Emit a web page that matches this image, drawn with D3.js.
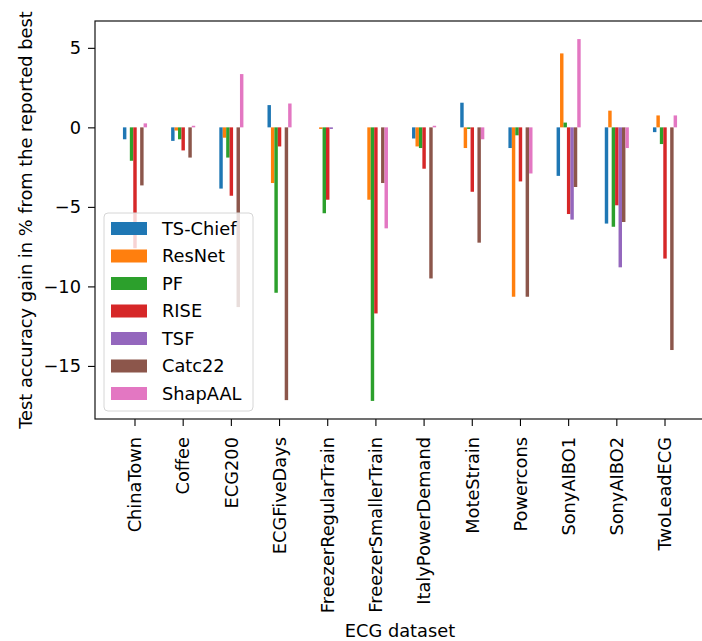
<!DOCTYPE html>
<html>
<head>
<meta charset="utf-8">
<script src="https://cdn.jsdelivr.net/npm/d3@7"></script>
<style>
  html, body { margin: 0; padding: 0; background: #fff; }
  svg { display: block; }
  text { font-family: "DejaVu Sans", sans-serif; fill: #000; }
</style>
</head>
<body>
<svg id="chart" width="702" height="641"></svg>
<script>
// ECG datasets on the x axis
const datasets = ["ChinaTown", "Coffee", "ECG200", "ECGFiveDays", "FreezerRegularTrain",
  "FreezerSmallerTrain", "ItalyPowerDemand", "MoteStrain", "Powercons",
  "SonyAIBO1", "SonyAIBO2", "TwoLeadECG"];

// Methods (one bar per dataset each)
const methods = ["TS-Chief", "ResNet", "PF", "RISE", "TSF", "Catc22", "ShapAAL"];

// Gain in test accuracy (%) relative to the reported best, per method
const tsChief = [-0.75, -0.85, -3.85, 1.4, 0, 0, -0.7, 1.55, -1.3, -3.05, -6.05, -0.3];
const resNet  = [0, -0.2, -0.65, -3.5, -0.1, -4.55, -1.2, -1.3, -10.65, 4.65, 1.05, 0.75];
const pf      = [-2.1, -0.75, -1.9, -10.4, -5.4, -17.2, -1.3, -0.1, -0.5, 0.3, -6.25, -1.05];
const rise    = [-7.6, -1.45, -4.3, -1.2, -4.55, -11.7, -2.6, -4.05, -3.4, -5.45, -4.9, -8.25];
const tsf     = [0, 0, 0, 0, -0.1, 0, 0, 0, 0, -5.8, -8.8, 0];
const catc22  = [-3.65, -1.9, -11.3, -17.15, 0, -3.5, -9.5, -7.25, -10.65, -3.75, -5.95, -14.0];
const shapAAL = [0.25, 0.1, 3.35, 1.5, 0, -6.35, 0.1, -0.75, -2.9, 5.55, -1.3, 0.75];

const seriesValues = [tsChief, resNet, pf, rise, tsf, catc22, shapAAL];
const colors = ["#1f77b4", "#ff7f0e", "#2ca02c", "#d62728", "#9467bd", "#8c564b", "#e377c2"];

const yTicks = [5, 0, -5, -10, -15];

const svg = d3.select("#chart");
const plot = { left: 95, right: 705, top: 21, bottom: 419 };
const fontSize = 17.8;

// x: one band per dataset, bars share the middle half of each band
const x0 = d3.scaleBand()
  .domain(datasets)
  .range([plot.left, plot.right])
  .paddingInner(0)
  .paddingOuter(0.33);
const step = x0.step();
const x1 = d3.scaleBand()
  .domain(methods)
  .range([-step * 0.25, step * 0.25]);

// y: data extent plus 5% margin on each side
const allVals = seriesValues.flat();
const yMin = d3.min(allVals), yMax = d3.max(allVals);
const pad = (yMax - yMin) * 0.05;
const y = d3.scaleLinear()
  .domain([yMin - pad, yMax + pad])
  .range([plot.bottom, plot.top]);

// Bars, drawn method by method
methods.forEach((m, si) => {
  svg.append("g")
    .selectAll("rect")
    .data(seriesValues[si].map((v, i) => ({ ds: datasets[i], v })))
    .join("rect")
    .attr("x", d => x0(d.ds) + x0.bandwidth() / 2 + x1(m))
    .attr("width", x1.bandwidth())
    .attr("y", d => y(Math.max(0, d.v)))
    .attr("height", d => Math.abs(y(d.v) - y(0)))
    .attr("fill", colors[si]);
});

// Axes
const xAxis = d3.axisBottom(x0).tickSize(7).tickPadding(6);
const gx = svg.append("g")
  .attr("transform", `translate(0,${plot.bottom})`)
  .call(xAxis);
gx.select(".domain").remove();
gx.selectAll(".tick line").attr("stroke", "#000").attr("stroke-width", 1.1);
gx.selectAll(".tick text")
  .attr("font-size", fontSize)
  .attr("font-family", "DejaVu Sans")
  .attr("transform", "rotate(-90)")
  .attr("text-anchor", "end")
  .attr("x", -18)
  .attr("y", 0)
  .attr("dy", "0.35em");

const yAxis = d3.axisLeft(y).tickValues(yTicks).tickSize(7).tickPadding(7)
  .tickFormat(d => d < 0 ? "\u2212" + Math.abs(d) : String(d));
const gy = svg.append("g")
  .attr("transform", `translate(${plot.left},0)`)
  .call(yAxis);
gy.select(".domain").remove();
gy.selectAll(".tick line").attr("stroke", "#000").attr("stroke-width", 1.1);
gy.selectAll(".tick text")
  .attr("font-size", fontSize)
  .attr("font-family", "DejaVu Sans");

// Frame
svg.append("rect")
  .attr("x", plot.left).attr("y", plot.top)
  .attr("width", plot.right - plot.left).attr("height", plot.bottom - plot.top)
  .attr("fill", "none").attr("stroke", "#111").attr("stroke-width", 1.2);

// Axis titles
svg.append("text")
  .attr("x", (plot.left + plot.right) / 2)
  .attr("y", 637)
  .attr("text-anchor", "middle")
  .attr("font-size", fontSize)
  .text("ECG dataset");

svg.append("text")
  .attr("transform", `translate(26,${(plot.top + plot.bottom) / 2}) rotate(-90)`)
  .attr("text-anchor", "middle")
  .attr("dy", "0.35em")
  .attr("font-size", fontSize)
  .text("Test accuracy gain in % from the reported best");

// Legend
const legend = svg.append("g");
const lg = { x: 104, y: 213, w: 149, h: 198, row: 27.5, first: 228.5 };
legend.append("rect")
  .attr("x", lg.x).attr("y", lg.y)
  .attr("width", lg.w).attr("height", lg.h)
  .attr("rx", 4)
  .attr("fill", "#fff").attr("fill-opacity", 0.8)
  .attr("stroke", "#d6d6d6").attr("stroke-width", 1);
methods.forEach((m, i) => {
  const cy = lg.first + i * lg.row;
  legend.append("rect")
    .attr("x", 111).attr("y", cy - 6.5)
    .attr("width", 36).attr("height", 13)
    .attr("fill", colors[i]);
  legend.append("text")
    .attr("x", 162).attr("y", cy)
    .attr("dy", "0.35em")
    .attr("font-size", fontSize)
    .text(m);
});
</script>
</body>
</html>
